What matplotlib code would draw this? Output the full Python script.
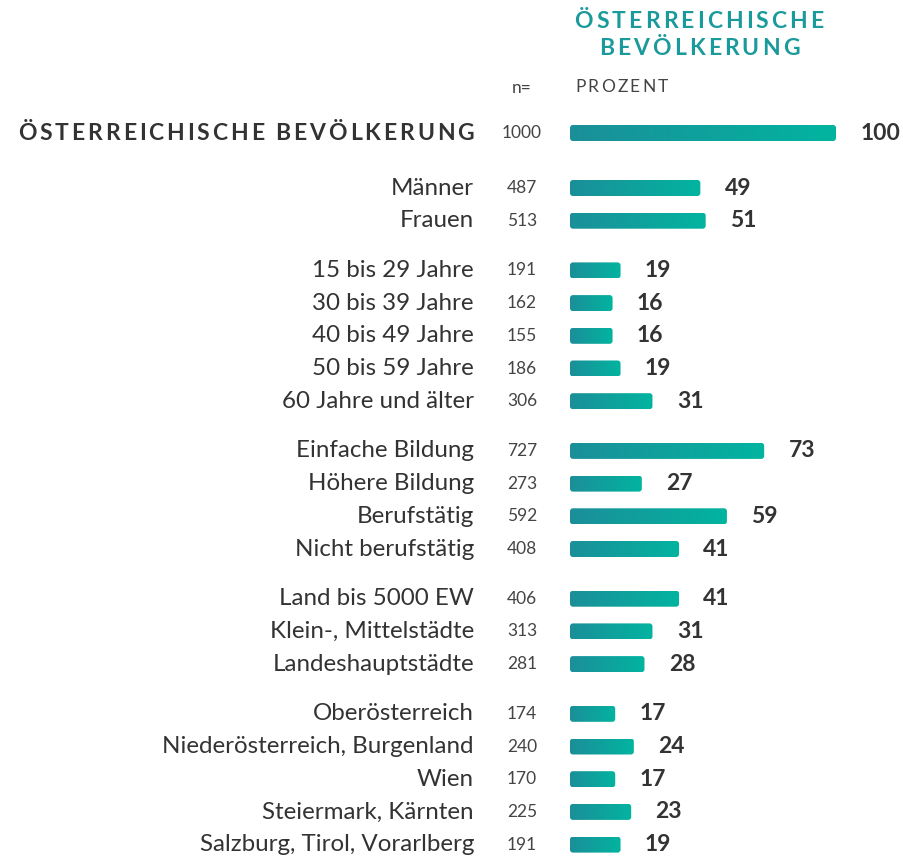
import numpy as np
import matplotlib
matplotlib.use("Agg")
import matplotlib.pyplot as plt
from matplotlib.patches import FancyBboxPatch
from matplotlib.font_manager import FontProperties
from matplotlib.textpath import TextToPath
from matplotlib.colors import LinearSegmentedColormap

# --- data -------------------------------------------------------------------
total_label = "ÖSTERREICHISCHE BEVÖLKERUNG"
total_n = 1000
total_pct = 100

groups = [
    ["Männer", "Frauen"],
    ["15 bis 29 Jahre", "30 bis 39 Jahre", "40 bis 49 Jahre",
     "50 bis 59 Jahre", "60 Jahre und älter"],
    ["Einfache Bildung", "Höhere Bildung", "Berufstätig", "Nicht berufstätig"],
    ["Land bis 5000 EW", "Klein-, Mittelstädte", "Landeshauptstädte"],
    ["Oberösterreich", "Niederösterreich, Burgenland", "Wien",
     "Steiermark, Kärnten", "Salzburg, Tirol, Vorarlberg"],
]
group_n = [
    [487, 513],
    [191, 162, 155, 186, 306],
    [727, 273, 592, 408],
    [406, 313, 281],
    [174, 240, 170, 225, 191],
]
group_pct = [
    [49, 51],
    [19, 16, 16, 19, 31],
    [73, 27, 59, 41],
    [41, 31, 28],
    [17, 24, 17, 23, 19],
]
header_lines = ["ÖSTERREICHISCHE", "BEVÖLKERUNG"]
unit_label = "PROZENT"
n_label = "n="

# --- style ------------------------------------------------------------------
W, H, DPI = 904, 857, 100
FONT = "Lato"
TEXT = "#333333"
GREY = "#444444"
TEAL = "#1b9a9c"
cmap = LinearSegmentedColormap.from_list("bar", ["#1b8f99", "#02b4a0"])
BAR_H = 16
ROW = 32.7
GAP = 17

plt.rcParams["font.family"] = [FONT, "DejaVu Sans"]

fig = plt.figure(figsize=(W / DPI, H / DPI), dpi=DPI)
# overlay in pixel coordinates for the text layout
ax = fig.add_axes([0, 0, 1, 1])
ax.set_xlim(0, W)
ax.set_ylim(H, 0)
ax.axis("off")
# bar axes: 0..100 percent maps to x = 570..836 px
bx = fig.add_axes([570 / W, 0, 266 / W, 1])
bx.axis("off")
t2p = TextToPath()


def spaced(x, y, s, size, spacing, ha="left", **kw):
    """Draw text with extra letter spacing (px), char by char."""
    prop = FontProperties(family=FONT, size=size, weight=kw.get("weight", "normal"))
    widths = [t2p.get_text_width_height_descent(c, prop, ismath=False)[0] * DPI / 72
              for c in s]
    total = sum(widths) + spacing * (len(s) - 1)
    x0 = {"left": x, "right": x - total, "center": x - total / 2}[ha]
    for c, w in zip(s, widths):
        ax.text(x0, y, c, fontsize=size, ha="left", va="center", **kw)
        x0 += w + spacing


def row(y, label, n, pct, bold=False):
    if bold:
        spaced(474, y, label, 16.5, 2.9, ha="right", weight="bold", color=TEXT)
    else:
        ax.text(474, y, label, fontsize=17.4, ha="right", va="center", color=TEXT)
    ax.text(522, y, str(n), fontsize=12.5, ha="center", va="center", color=GREY)
    patch = FancyBboxPatch((0, y - BAR_H / 2), pct, BAR_H,
                           boxstyle="round,pad=0,rounding_size=1.1",
                           mutation_aspect=2.66, facecolor="none",
                           edgecolor="none")
    bx.add_patch(patch)
    im = bx.imshow(np.linspace(0, 1, 256)[None, :], cmap=cmap, aspect="auto",
                   extent=(0, pct, y + BAR_H / 2, y - BAR_H / 2))
    im.set_clip_path(patch)
    bx.annotate(str(pct), (pct, y), xytext=(17.5, 0), textcoords="offset points",
                fontsize=16.5, weight="bold", ha="left", va="center", color=TEXT)


# header
spaced(699, 21, header_lines[0], 16.5, 3.1, ha="center", weight="bold", color=TEAL)
spaced(699, 48, header_lines[1], 16.5, 3.1, ha="center", weight="bold", color=TEAL)
spaced(575, 87, unit_label, 12.5, 2.3, color=GREY)
ax.text(522, 88, n_label, fontsize=12.5, ha="center", va="center", color=GREY)

row(133, total_label, total_n, total_pct, bold=True)
y = 188
for labels, ns, pcts in zip(groups, group_n, group_pct):
    for lab, n, p in zip(labels, ns, pcts):
        row(y, lab, n, p)
        y += ROW
    y += GAP

bx.set_xlim(0, 100)
bx.set_ylim(H, 0)
bx.set_aspect("auto")

fig.savefig("out.png", dpi=DPI)
